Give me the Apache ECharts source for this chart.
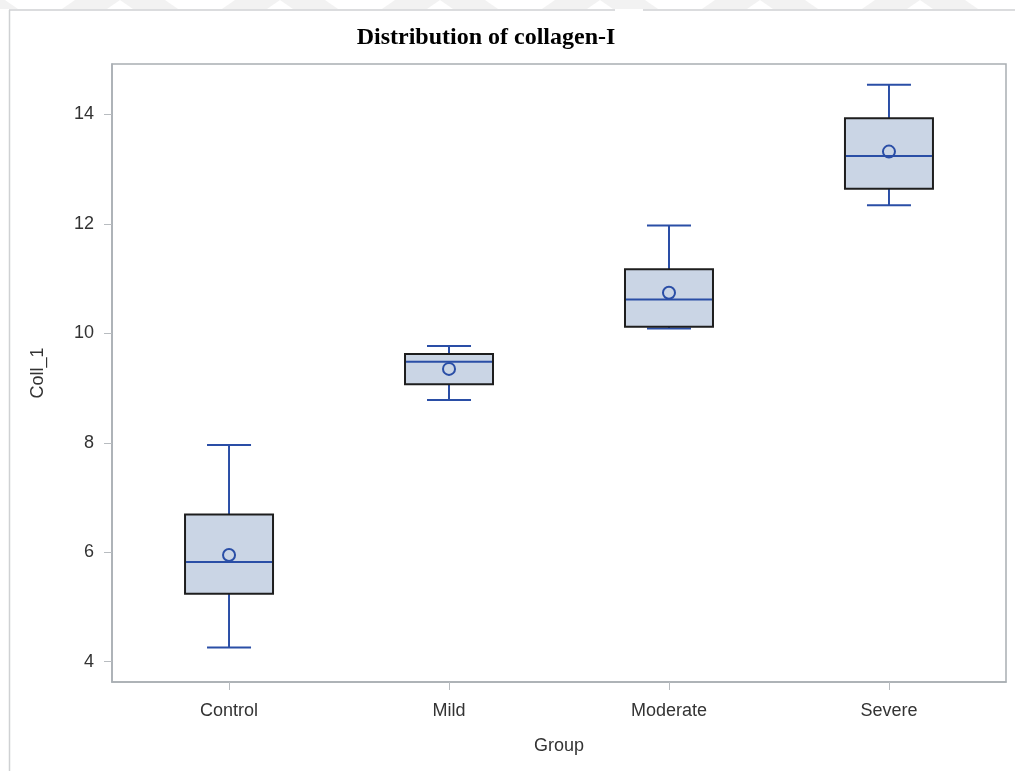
<!DOCTYPE html>
<html>
<head>
<meta charset="utf-8">
<title>Distribution of collagen-I</title>
<script src="https://cdn.jsdelivr.net/npm/echarts@6/dist/echarts.min.js"></script>
<style>
  html, body { margin: 0; padding: 0; background: #ffffff; }
  #chart { width: 1015px; height: 771px; }
</style>
</head>
<body>
<div id="chart"></div>
<script>
// Collagen-I distribution per disease group
const categories = ['Control', 'Mild', 'Moderate', 'Severe'];
const whiskerLow = [4.26, 8.78, 10.09, 12.34];
const q1 = [5.24, 9.07, 10.12, 12.64];
const median = [5.82, 9.48, 10.62, 13.24];
const q3 = [6.69, 9.62, 11.17, 13.93];
const whiskerHigh = [7.96, 9.77, 11.97, 14.54];
const mean = [5.95, 9.35, 10.74, 13.32];
const yTicks = [4, 6, 8, 10, 12, 14];

const boxFill = '#cad5e5';
const boxEdge = '#1e1e1e';
const lineBlue = '#2a4ea6';
const frameGray = '#a9aeb3';
const labelFont = 'Liberation Sans, Arial, sans-serif';

const rows = categories.map((c, i) => [i, whiskerLow[i], q1[i], median[i], q3[i], whiskerHigh[i], mean[i]]);
const xPositions = categories.map((c, i) => i);

function renderBox(params, api) {
  const i = api.value(0);
  const boxW = api.size([0.4, 0])[0];
  const capW = api.size([0.2, 0])[0];
  const pLow = api.coord([i, api.value(1)]);
  const pQ1 = api.coord([i, api.value(2)]);
  const pMed = api.coord([i, api.value(3)]);
  const pQ3 = api.coord([i, api.value(4)]);
  const pHigh = api.coord([i, api.value(5)]);
  const pMean = api.coord([i, api.value(6)]);
  const cx = pMed[0];
  const blueLine = { stroke: lineBlue, lineWidth: 2, fill: null };
  return {
    type: 'group',
    children: [
      { type: 'line', shape: { x1: cx, y1: pHigh[1], x2: cx, y2: pQ3[1] }, style: blueLine },
      { type: 'line', shape: { x1: cx, y1: pQ1[1], x2: cx, y2: pLow[1] }, style: blueLine },
      { type: 'line', shape: { x1: cx - capW / 2, y1: pHigh[1], x2: cx + capW / 2, y2: pHigh[1] }, style: blueLine },
      { type: 'line', shape: { x1: cx - capW / 2, y1: pLow[1], x2: cx + capW / 2, y2: pLow[1] }, style: blueLine },
      { type: 'rect', shape: { x: cx - boxW / 2, y: pQ3[1], width: boxW, height: pQ1[1] - pQ3[1] },
        style: { fill: boxFill, stroke: boxEdge, lineWidth: 2 } },
      { type: 'line', shape: { x1: cx - boxW / 2 + 1, y1: pMed[1], x2: cx + boxW / 2 - 1, y2: pMed[1] }, style: blueLine },
      { type: 'circle', shape: { cx: pMean[0], cy: pMean[1], r: 6 },
        style: { fill: 'transparent', stroke: lineBlue, lineWidth: 2 } }
    ]
  };
}

// faint chevron band along the very top edge
const chevrons = [];
for (let x = -40; x < 1060; x += 160) {
  chevrons.push({ type: 'polygon', silent: true,
    shape: { points: [[x, 0], [x + 45, 0], [x + 58, 9], [x + 13, 9]] },
    style: { fill: '#f2f2f2' } });
  chevrons.push({ type: 'polygon', silent: true,
    shape: { points: [[x + 115, 0], [x + 160, 0], [x + 147, 9], [x + 102, 9]] },
    style: { fill: '#f2f2f2' } });
}

const chart = echarts.init(document.getElementById('chart'), null, { renderer: 'canvas' });
chart.setOption({
  backgroundColor: '#ffffff',
  animation: false,
  title: {
    text: 'Distribution of collagen-I',
    left: 481,
    top: 21,
    textAlign: 'center',
    textStyle: { fontFamily: 'Liberation Serif, Times New Roman, serif', fontWeight: 'bold', fontSize: 24, color: '#000' }
  },
  graphic: chevrons.concat([
    { type: 'line', silent: true, shape: { x1: 9.5, y1: 10, x2: 9.5, y2: 771 }, style: { stroke: '#cfd1d3', lineWidth: 1.5 } },
    { type: 'line', silent: true, shape: { x1: 9, y1: 10, x2: 615, y2: 10 }, style: { stroke: '#cfd1d3', lineWidth: 1.5 } },
    { type: 'line', silent: true, shape: { x1: 643, y1: 10, x2: 1015, y2: 10 }, style: { stroke: '#cfd1d3', lineWidth: 1.5 } }
  ]),
  grid: {
    left: 112, right: 9, top: 64, bottom: 89,
    show: true, borderColor: frameGray, borderWidth: 1.5, backgroundColor: 'transparent'
  },
  xAxis: {
    type: 'value',
    min: -0.532, max: 3.532,
    name: 'Group', nameLocation: 'middle', nameGap: 55,
    nameTextStyle: { fontFamily: labelFont, fontSize: 18, color: '#333' },
    axisLine: { show: true, onZero: false, lineStyle: { color: frameGray, width: 1.5 } },
    axisTick: { show: true, length: 8, customValues: xPositions, lineStyle: { color: '#b8bcc0' } },
    axisLabel: { customValues: xPositions, margin: 20, fontFamily: labelFont, fontSize: 18, color: '#333',
      formatter: v => categories[Math.round(v)] },
    splitLine: { show: false }
  },
  yAxis: {
    type: 'value',
    min: 3.63, max: 14.92,
    name: 'Coll_1', nameLocation: 'middle', nameGap: 65, nameRotate: 90,
    nameTextStyle: { fontFamily: labelFont, fontSize: 18, color: '#333' },
    axisLine: { show: true, onZero: false, lineStyle: { color: frameGray, width: 1.5 } },
    axisTick: { show: true, length: 8, customValues: yTicks, lineStyle: { color: '#b8bcc0' } },
    axisLabel: { customValues: yTicks, margin: 18, fontFamily: labelFont, fontSize: 18, color: '#333' },
    splitLine: { show: false }
  },
  series: [{
    type: 'custom',
    renderItem: renderBox,
    encode: { x: 0, y: [1, 2, 3, 4, 5, 6] },
    data: rows,
    clip: false
  }]
});
</script>
</body>
</html>
